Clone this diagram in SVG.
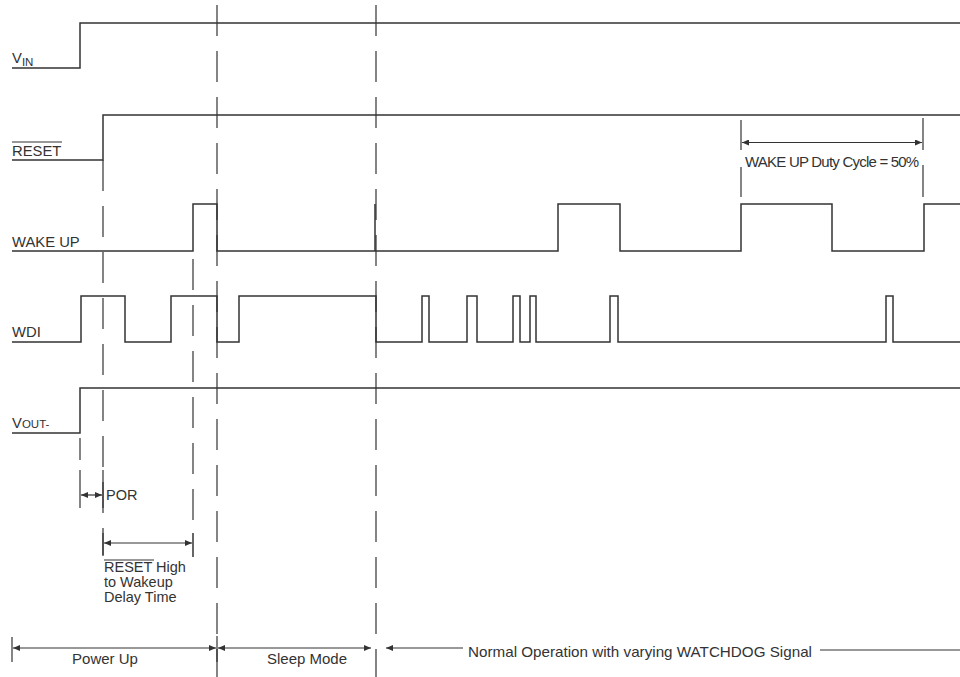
<svg xmlns="http://www.w3.org/2000/svg" width="960" height="677" viewBox="0 0 960 677">
<defs>
<marker id="ah" markerWidth="8" markerHeight="6" refX="7" refY="3" orient="auto-start-reverse" markerUnits="userSpaceOnUse">
<path d="M0,0 L7,3 L0,6 z" fill="#333"/>
</marker>
<style>
.sig{fill:none;stroke:#333;stroke-width:1.5}
.dash{fill:none;stroke:#333;stroke-width:1.2;stroke-dasharray:31 15;stroke-dashoffset:-5}
.tick{fill:none;stroke:#333;stroke-width:1.2}
.arr{fill:none;stroke:#333;stroke-width:1.2;marker-start:url(#ah);marker-end:url(#ah)}
.arr1{fill:none;stroke:#333;stroke-width:1.2;marker-start:url(#ah)}
.lbl{font-family:"Liberation Sans",Arial,sans-serif;font-size:14.8px;fill:#333}
.sub{font-family:"Liberation Sans",Arial,sans-serif;font-size:11.5px;fill:#333}
.ann{font-family:"Liberation Sans",Arial,sans-serif;font-size:15px;fill:#333}
</style>
</defs>
<rect width="960" height="677" fill="#fff"/>

<g id="guides">
<line class="dash" x1="217" y1="0" x2="217" y2="677"/>
<line class="dash" x1="376" y1="0" x2="376" y2="677"/>
<line class="dash" x1="103" y1="160" x2="103" y2="555" style="stroke-dashoffset:0"/>
<line class="dash" x1="193" y1="251" x2="193" y2="535" style="stroke-dashoffset:-8"/>
<line class="dash" x1="80" y1="433" x2="80" y2="470" style="stroke-dasharray:22 15"/>
</g>

<g id="vin">
<path class="sig" d="M12,68 H80 V23 H960"/>
<text class="lbl" x="12" y="63">V<tspan class="sub" dy="3">IN</tspan></text>
</g>

<g id="reset">
<path class="sig" d="M12,160 H103 V115 H960"/>
<text class="lbl" x="12" y="156">RESET</text>
<line class="tick" x1="12" y1="142" x2="62" y2="142"/>
</g>

<g id="wakeup">
<path class="sig" d="M12,251 H193 V204 H217 V251 H375 V204 V251 H558 V204 H620 V251 H741 V204 H832 V251 H924 V204 H960"/>
<text class="lbl" x="12" y="247">WAKE UP</text>
</g>

<g id="wdi">
<path class="sig" d="M12,342 H81 V296 H125 V342 H171 V296 H217 V342 H239 V296 H376 V342 H422 V296 H429 V342 H467 V296 H477 V342 H513 V296 H520 V342 H530 V296 H536 V342 H610 V296 H618 V342 H886 V296 H893 V342 H960"/>
<text class="lbl" x="12" y="337">WDI</text>
</g>

<g id="vout">
<path class="sig" d="M12,433 H80 V388 H960"/>
<text class="lbl" x="12" y="428">V<tspan class="sub">OUT-</tspan></text>
</g>

<g id="por">
<line class="tick" x1="80" y1="470" x2="80" y2="508"/>
<line class="tick" x1="103" y1="470" x2="103" y2="508"/>
<line class="arr" x1="81" y1="495" x2="102" y2="495"/>
<text class="ann" x="106" y="500" style="font-size:14.5px">POR</text>
</g>

<g id="delay">
<line class="tick" x1="103" y1="533" x2="103" y2="556"/>
<line class="tick" x1="193" y1="533" x2="193" y2="557" style="stroke-width:1.5"/>
<line class="arr" x1="104" y1="543" x2="192" y2="543"/>
<text class="ann" x="104" y="572" style="font-size:14.5px">RESET High</text>
<line class="tick" x1="104" y1="560" x2="154" y2="560"/>
<text class="ann" x="104" y="587" style="font-size:14.5px">to Wakeup</text>
<text class="ann" x="104" y="602" style="font-size:14.5px">Delay Time</text>
</g>

<g id="duty">
<line class="tick" x1="741" y1="120" x2="741" y2="150"/>
<line class="tick" x1="741" y1="167" x2="741" y2="197"/>
<line class="tick" x1="923" y1="118" x2="923" y2="150"/>
<line class="tick" x1="923" y1="165" x2="923" y2="197"/>
<line class="arr" x1="742" y1="142.5" x2="922" y2="142.5"/>
<text class="ann" x="745" y="167" style="letter-spacing:-0.78px">WAKE UP Duty Cycle = 50%</text>
</g>

<g id="phases">
<line class="tick" x1="12" y1="637" x2="12" y2="662"/>
<line class="tick" x1="217" y1="636" x2="217" y2="662"/>
<line class="arr" x1="13" y1="648" x2="216" y2="648"/>
<line class="arr" x1="218" y1="648" x2="371" y2="648"/>
<line class="arr1" x1="386" y1="648" x2="463" y2="648"/>
<line class="tick" x1="820" y1="650" x2="960" y2="650"/>
<text class="ann" x="105" y="664" text-anchor="middle">Power Up</text>
<text class="ann" x="307" y="664" text-anchor="middle">Sleep Mode</text>
<text class="ann" x="468" y="657" textLength="344" lengthAdjust="spacingAndGlyphs">Normal Operation with varying WATCHDOG Signal</text>
</g>
</svg>
